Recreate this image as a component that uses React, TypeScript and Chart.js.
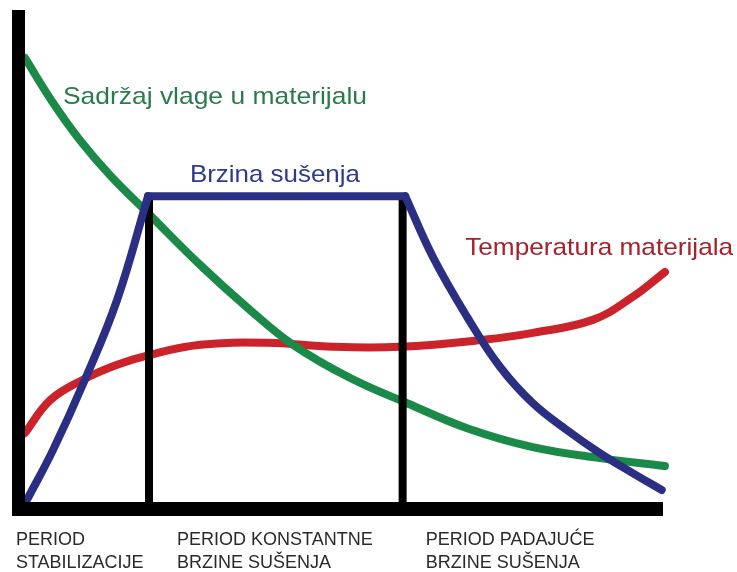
import React, { useEffect, useRef } from "react";
import { Chart, registerables } from "chart.js";

Chart.register(...registerables);

// Moisture content (green)
const greenX = [1.0, 5.35, 9.54, 14.2, 20.4, 28.2, 35.9, 42.6, 51.4, 60.3, 69.6, 79.8, 90.2, 100.3];
const greenY = [90.4, 81.4, 73.9, 66.9, 58.9, 48.9, 39.9, 32.9, 26.3, 21.2, 16.2, 12.4, 10.2, 8.6];

// Material temperature (red)
const redX = [1.0, 4.9, 10.0, 15.3, 20.4, 28.2, 38.6, 48.8, 59.2, 72.1, 79.8, 89.1, 95.3, 100.3];
const redY = [15.2, 21.8, 25.9, 28.9, 30.9, 32.9, 33.3, 32.5, 32.5, 33.9, 35.3, 37.9, 42.5, 47.5];

// Drying rate (blue): rising, constant, falling
const blueX = [1.3, 5.35, 10.3, 15.3, 20.1, 60.0, 64.3, 69.6, 74.7, 79.8, 85.1, 90.2, 95.3, 99.8];
const blueY = [1.8, 11.8, 25.9, 41.9, 62.7, 62.7, 50.5, 38.5, 28.5, 21.2, 15.8, 11.2, 7.2, 3.8];
const blueBreaks = [4, 5]; // indices where the rate changes regime

// Period boundaries
const periodBoundaries = [20.25, 59.6];
const boundaryTop = 62.7;

const curveLabels = [
  { text: "Sadržaj vlage u materijalu", x: 6.9, y: 81.2, color: "#2b7a4b", width: 304 },
  { text: "Brzina sušenja", x: 26.6, y: 65.5, color: "#2f3a8c", width: 170 },
  { text: "Temperatura materijala", x: 69.3, y: 50.9, color: "#a3222c", width: 268 },
];

const periodLabels = [
  { lines: ["PERIOD", "STABILIZACIJE"], x: -0.4 },
  { lines: ["PERIOD KONSTANTNE", "BRZINE SUŠENJA"], x: 24.6 },
  { lines: ["PERIOD PADAJUĆE", "BRZINE SUŠENJA"], x: 63.2 },
];

const pts = (xs: number[], ys: number[]) => xs.map((x, i) => ({ x, y: ys[i] }));

const decor = {
  id: "decor",
  afterDatasetsDraw(chart: any) {
    const { ctx, chartArea } = chart;
    const xs = chart.scales.x;
    const ys = chart.scales.y;
    const x0 = xs.getPixelForValue(0);
    const y0 = ys.getPixelForValue(0);
    ctx.save();
    ctx.strokeStyle = "#000";
    ctx.lineCap = "butt";
    ctx.lineWidth = 13;
    ctx.beginPath();
    ctx.moveTo(x0, chartArea.top);
    ctx.lineTo(x0, y0 + 7);
    ctx.stroke();
    ctx.lineWidth = 14;
    ctx.beginPath();
    ctx.moveTo(x0 - 6.5, y0);
    ctx.lineTo(chartArea.right, y0);
    ctx.stroke();

    ctx.textBaseline = "alphabetic";
    ctx.textAlign = "left";
    ctx.font = "24px 'Liberation Sans', Arial, sans-serif";
    for (const l of curveLabels) {
      const w = ctx.measureText(l.text).width;
      const s = l.width / w;
      ctx.save();
      ctx.translate(xs.getPixelForValue(l.x), ys.getPixelForValue(l.y));
      ctx.scale(s, 1);
      ctx.fillStyle = l.color;
      ctx.fillText(l.text, 0, 0);
      ctx.restore();
    }

    ctx.font = "18px 'Liberation Sans', Arial, sans-serif";
    ctx.fillStyle = "#2a2a2a";
    for (const p of periodLabels) {
      const px = xs.getPixelForValue(p.x);
      p.lines.forEach((line, i) => {
        ctx.fillText(line, px, y0 + 36 + i * 23);
      });
    }
    ctx.restore();
  },
};

export default function App() {
  const ref = useRef<HTMLCanvasElement | null>(null);
  useEffect(() => {
    if (!ref.current) return;
    const common = {
      pointRadius: 0,
      pointHoverRadius: 0,
      borderCapStyle: "round" as const,
      borderJoinStyle: "round" as const,
      clip: false as const,
      fill: false,
    };
    const bluePts = pts(blueX, blueY);
    const blueParts = [
      bluePts.slice(0, blueBreaks[0] + 1),
      bluePts.slice(blueBreaks[0], blueBreaks[1] + 1),
      bluePts.slice(blueBreaks[1]),
    ];
    const chart = new Chart(ref.current, {
      type: "line",
      data: {
        datasets: [
          ...blueParts.map((part, i) => ({
            ...common,
            label: "Brzina sušenja " + (i + 1),
            data: part,
            borderColor: "#2b2f83",
            borderWidth: 8,
            tension: 0.4,
            order: 0,
          })),
          ...periodBoundaries.map((b, i) => ({
            ...common,
            label: "granica " + (i + 1),
            data: [
              { x: b, y: 0 },
              { x: b, y: boundaryTop },
            ],
            borderColor: "#000",
            borderWidth: 8,
            borderCapStyle: "butt" as const,
            order: 1,
          })),
          {
            ...common,
            label: "Sadržaj vlage u materijalu",
            data: pts(greenX, greenY),
            borderColor: "#1b8a48",
            borderWidth: 8,
            tension: 0.4,
            order: 2,
          },
          {
            ...common,
            label: "Temperatura materijala",
            data: pts(redX, redY),
            borderColor: "#cc2229",
            borderWidth: 8,
            tension: 0.4,
            order: 3,
          },
        ],
      },
      options: {
        responsive: false,
        animation: false,
        devicePixelRatio: 1,
        layout: { padding: { left: 18.5, right: 74, top: 10, bottom: 63 } },
        plugins: { legend: { display: false }, tooltip: { enabled: false }, title: { display: false } },
        events: [],
        scales: {
          x: { type: "linear", min: 0, max: 100, display: false },
          y: { type: "linear", min: 0, max: 100, display: false },
        },
      },
      plugins: [decor],
    });
    return () => chart.destroy();
  }, []);
  return (
    <div style={{ position: "fixed", left: 0, top: 0, width: 737, height: 572, background: "#fff" }}>
      <canvas ref={ref} width={737} height={572} />
    </div>
  );
}
